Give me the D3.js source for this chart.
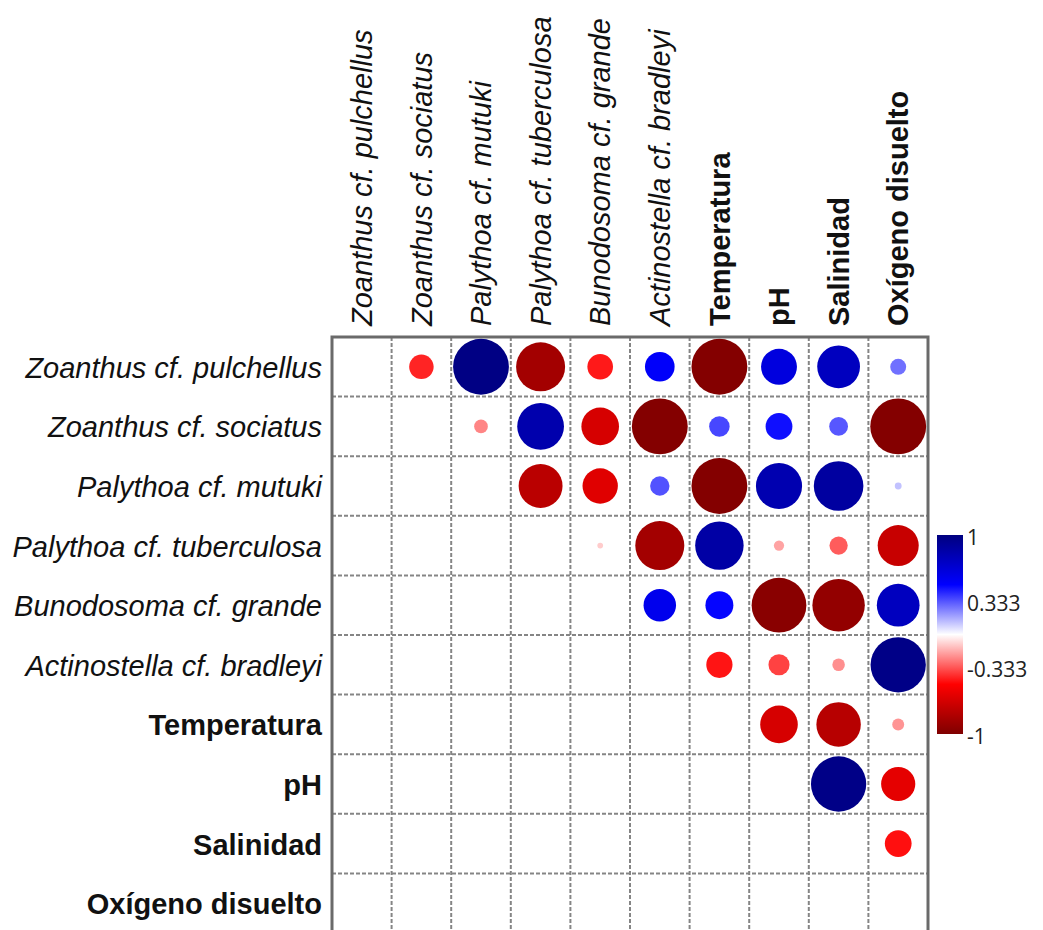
<!DOCTYPE html>
<html>
<head>
<meta charset="utf-8">
<script src="https://cdn.jsdelivr.net/npm/d3@7"></script>
<style>
  body { margin: 0; background: #fff; }
  text { white-space: pre; }
</style>
</head>
<body>
<div id="G"></div>
<script>
// variables, in matrix order
var variables = ["Zoanthus cf. pulchellus", "Zoanthus cf. sociatus", "Palythoa cf. mutuki",
  "Palythoa cf. tuberculosa", "Bunodosoma cf. grande", "Actinostella cf. bradleyi",
  "Temperatura", "pH", "Salinidad", "Oxígeno disuelto"];
var environment = ["Temperatura", "pH", "Salinidad", "Oxígeno disuelto"];

// upper triangle of the correlation matrix (null = not drawn)
var corrRows = [
  [null, -0.43, 0.98, -0.86, -0.45, 0.52, -0.98, 0.63, 0.75, 0.28],
  [null, null, -0.24, 0.82, -0.66, -0.98, 0.36, 0.47, 0.33, -0.98],
  [null, null, null, -0.77, -0.62, 0.34, -0.98, 0.81, 0.87, 0.12],
  [null, null, null, null, -0.10, -0.86, 0.85, -0.18, -0.32, -0.72],
  [null, null, null, null, null, 0.57, 0.49, -0.96, -0.92, 0.75],
  [null, null, null, null, null, null, -0.46, -0.37, -0.22, 0.97],
  [null, null, null, null, null, null, null, -0.66, -0.78, -0.21],
  [null, null, null, null, null, null, null, null, 0.97, -0.60],
  [null, null, null, null, null, null, null, null, null, -0.47],
  [null, null, null, null, null, null, null, null, null, null]
];

var legendTicks = [1, 0.333, -0.333, -1];
var legendLabels = ["1", "0.333", "-0.333", "-1"];

var W = 1043, H = 930;
var Border = { left: 332, top: 337, size: 596 };

var svg = d3.select("#G").append("svg")
  .attr("width", W).attr("height", H)
  .style("font-family", "'Liberation Sans', Arial, sans-serif");

var x = d3.scaleBand().domain(variables).range([Border.left, Border.left + Border.size]);
var y = d3.scaleBand().domain(variables).range([Border.top, Border.top + Border.size]);

var color = d3.scaleLinear()
  .domain([-1, -0.5, 0, 0.5, 1])
  .range(["#7F0000", "#FF0000", "#FFFFFF", "#0000FF", "#00007F"]);
var radius = d3.scaleLinear().domain([0, 1]).range([0, 28.5]);

// dashed grid
var inner = variables.slice(1);
svg.append("g").selectAll("line").data(inner).join("line")
  .attr("x1", d => x(d)).attr("x2", d => x(d))
  .attr("y1", Border.top).attr("y2", Border.top + Border.size)
  .attr("stroke", "#858585").attr("stroke-width", 2).attr("stroke-dasharray", "4,2");
svg.append("g").selectAll("line").data(inner).join("line")
  .attr("y1", d => y(d)).attr("y2", d => y(d))
  .attr("x1", Border.left).attr("x2", Border.left + Border.size)
  .attr("stroke", "#858585").attr("stroke-width", 2).attr("stroke-dasharray", "4,2");

// circles
var cells = [];
corrRows.forEach(function (row, i) {
  row.forEach(function (v, j) {
    if (v !== null) cells.push({ r: variables[i], c: variables[j], v: v });
  });
});
svg.append("g").selectAll("circle").data(cells).join("circle")
  .attr("cx", d => x(d.c) + x.bandwidth() / 2)
  .attr("cy", d => y(d.r) + y.bandwidth() / 2)
  .attr("r", d => radius(Math.abs(d.v)))
  .attr("fill", d => color(d.v));

// outer border
svg.append("rect")
  .attr("x", Border.left).attr("y", Border.top)
  .attr("width", Border.size).attr("height", Border.size)
  .attr("fill", "none").attr("stroke", "#6a6a6a").attr("stroke-width", 3);

function styleLabel(sel) {
  sel.style("font-size", "29px").attr("fill", "#111")
    .style("font-family", "'Liberation Sans', Arial, sans-serif")
    .style("font-style", d => environment.indexOf(d) >= 0 ? "normal" : "italic")
    .style("font-weight", d => environment.indexOf(d) >= 0 ? "bold" : "normal");
}

// row labels
var leftAxis = svg.append("g")
  .attr("transform", "translate(" + Border.left + ",0)")
  .call(d3.axisLeft(y).tickSize(0).tickPadding(10));
leftAxis.select(".domain").remove();
leftAxis.selectAll("text").attr("dy", "0.38em").call(styleLabel);

// column labels
var topAxis = svg.append("g")
  .attr("transform", "translate(0," + Border.top + ")")
  .call(d3.axisTop(x).tickSize(0));
topAxis.select(".domain").remove();
topAxis.selectAll("text")
  .attr("transform", "rotate(-90)")
  .attr("text-anchor", "start")
  .attr("x", 11).attr("y", 0).attr("dy", "0.35em")
  .call(styleLabel);

// colour legend
var ly = d3.scaleLinear().domain([-1, 1]).range([736, 537]);
var grad = svg.append("defs").append("linearGradient")
  .attr("id", "lg").attr("x1", 0).attr("x2", 0).attr("y1", 0).attr("y2", 1);
grad.selectAll("stop").data([1, 0.5, 0, -0.5, -1]).join("stop")
  .attr("offset", d => (1 - d) / 2)
  .attr("stop-color", d => color(d));
svg.append("rect")
  .attr("x", 937).attr("y", 535).attr("width", 26).attr("height", 199)
  .attr("fill", "url(#lg)");
svg.append("g").selectAll("text").data(legendTicks).join("text")
  .attr("x", 967).attr("y", d => ly(d)).attr("dy", "0.36em")
  .style("font-family", "'Open Sans', sans-serif").style("font-size", "21px")
  .attr("fill", "#222")
  .text((d, i) => legendLabels[i]);
</script>
</body>
</html>
